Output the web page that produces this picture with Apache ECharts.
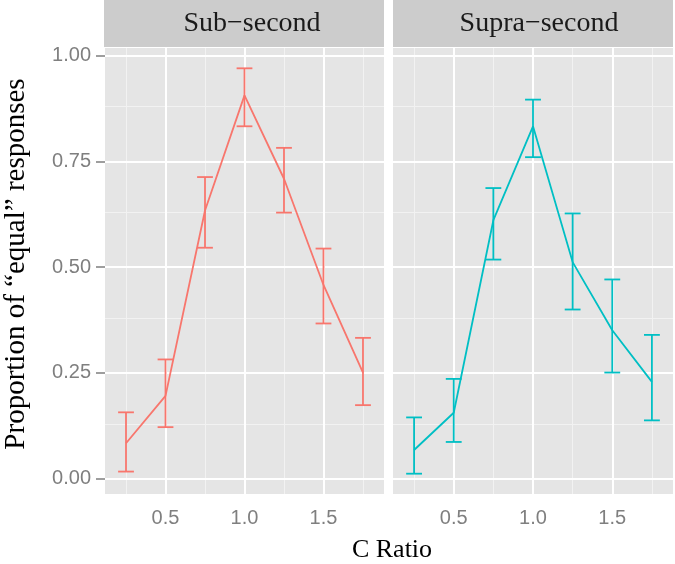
<!DOCTYPE html>
<html>
<head>
<meta charset="utf-8">
<script src="https://cdn.jsdelivr.net/npm/echarts@6/dist/echarts.min.js"></script>
<style>
html,body{margin:0;padding:0;background:#fff;}
#chart{width:675px;height:564px;}
</style>
</head>
<body>
<div id="chart"></div>
<script>
// ---- data ----
const panels = ['Sub\u2212second', 'Supra\u2212second'];
const cRatio = [0.25, 0.5, 0.75, 1.0, 1.25, 1.5, 1.75];
const subMean = [0.084, 0.196, 0.634, 0.906, 0.709, 0.458, 0.251];
const subLow  = [0.017, 0.122, 0.546, 0.833, 0.629, 0.367, 0.174];
const subHigh = [0.157, 0.282, 0.713, 0.970, 0.782, 0.544, 0.333];
const supraMean = [0.068, 0.156, 0.611, 0.833, 0.512, 0.351, 0.229];
const supraLow  = [0.012, 0.087, 0.518, 0.760, 0.400, 0.251, 0.138];
const supraHigh = [0.145, 0.236, 0.687, 0.896, 0.627, 0.471, 0.340];
const xTicks = [0.5, 1.0, 1.5];
const xMinor = [0.25, 0.75, 1.25, 1.75];
const yTicks = [0, 0.25, 0.5, 0.75, 1.0];
const yMinor = [0.125, 0.375, 0.625, 0.875];
const colors = ['#F8766D', '#00BFC4'];

const chart = echarts.init(document.getElementById('chart'), null, {renderer: 'canvas'});

const gridDefs = [
  {left: 105, top: 48, width: 279, height: 446},
  {left: 393, top: 48, width: 280, height: 446}
];
const X_MIN = 0.117, X_MAX = 1.883, Y_MIN = -0.036, Y_MAX = 1.018;
const tickGray = '#7F7F7F';

function xAxisDef(i) {
  return {
    type: 'value', gridIndex: i, min: X_MIN, max: X_MAX,
    axisLine: {show: false},
    splitLine: {show: false},
    axisTick: {show: true, customValues: xTicks, length: 9, lineStyle: {color: tickGray, width: 1.5}},
    axisLabel: {show: true, customValues: xTicks, margin: 14, color: tickGray, fontSize: 20,
      fontFamily: 'Liberation Sans', formatter: v => v.toFixed(1)}
  };
}
function yAxisDef(i) {
  return {
    type: 'value', gridIndex: i, min: Y_MIN, max: Y_MAX,
    axisLine: {show: false},
    splitLine: {show: false},
    axisTick: {show: i === 0, customValues: yTicks, length: 9, lineStyle: {color: tickGray, width: 1.5}},
    axisLabel: {show: i === 0, customValues: yTicks, margin: 14, color: tickGray, fontSize: 20,
      fontFamily: 'Liberation Sans', formatter: v => v.toFixed(2)}
  };
}

function gridLines(i) {
  const d = [];
  xMinor.forEach(v => d.push({xAxis: v, lineStyle: {color: '#F2F2F2', width: 1, type: 'solid'}}));
  yMinor.forEach(v => d.push({yAxis: v, lineStyle: {color: '#F2F2F2', width: 1, type: 'solid'}}));
  xTicks.forEach(v => d.push({xAxis: v, lineStyle: {color: '#FFFFFF', width: 2, type: 'solid'}}));
  yTicks.forEach(v => d.push({yAxis: v, lineStyle: {color: '#FFFFFF', width: 2, type: 'solid'}}));
  return {
    type: 'line', xAxisIndex: i, yAxisIndex: i, data: [], silent: true, z: 1,
    markLine: {silent: true, symbol: ['none', 'none'], label: {show: false}, animation: false, data: d}
  };
}

function lineSeries(i, mean) {
  return {
    type: 'line', xAxisIndex: i, yAxisIndex: i, z: 5,
    data: cRatio.map((x, k) => [x, mean[k]]),
    showSymbol: false, symbol: 'none',
    lineStyle: {color: colors[i], width: 1.8},
    animation: false
  };
}

function errSeries(i, low, high) {
  return {
    type: 'custom', xAxisIndex: i, yAxisIndex: i, z: 6,
    data: cRatio.map((x, k) => [x, low[k], high[k]]),
    renderItem: function (params, api) {
      const x = api.value(0), lo = api.value(1), hi = api.value(2);
      const pLo = api.coord([x, lo]), pHi = api.coord([x, hi]);
      const lL = api.coord([x - 0.05, lo]), lR = api.coord([x + 0.05, lo]);
      const hL = api.coord([x - 0.05, hi]), hR = api.coord([x + 0.05, hi]);
      const style = {stroke: colors[i], lineWidth: 1.8, fill: null};
      return {
        type: 'group',
        children: [
          {type: 'line', shape: {x1: pLo[0], y1: pLo[1], x2: pHi[0], y2: pHi[1]}, style: style},
          {type: 'line', shape: {x1: lL[0], y1: lL[1], x2: lR[0], y2: lR[1]}, style: style},
          {type: 'line', shape: {x1: hL[0], y1: hL[1], x2: hR[0], y2: hR[1]}, style: style}
        ]
      };
    },
    animation: false
  };
}

const serif = 'Liberation Serif';
const option = {
  animation: false,
  backgroundColor: '#FFFFFF',
  grid: gridDefs.map(g => Object.assign({show: true, backgroundColor: '#E5E5E5', borderWidth: 0, containLabel: false}, g)),
  xAxis: [xAxisDef(0), xAxisDef(1)],
  yAxis: [yAxisDef(0), yAxisDef(1)],
  series: [
    gridLines(0), gridLines(1),
    lineSeries(0, subMean), errSeries(0, subLow, subHigh),
    lineSeries(1, supraMean), errSeries(1, supraLow, supraHigh)
  ],
  graphic: [
    {type: 'rect', left: 104, top: 0, shape: {width: 280, height: 47}, style: {fill: '#CCCCCC'}, silent: true},
    {type: 'rect', left: 393, top: 0, shape: {width: 280, height: 47}, style: {fill: '#CCCCCC'}, silent: true},
    {type: 'text', x: 252, y: 24, style: {text: panels[0], font: '28px "' + serif + '"', fill: '#1A1A1A', align: 'center', verticalAlign: 'middle'}},
    {type: 'text', x: 539, y: 24, style: {text: panels[1], font: '28px "' + serif + '"', fill: '#1A1A1A', align: 'center', verticalAlign: 'middle'}},
    {type: 'text', x: 392, y: 550, style: {text: 'C Ratio', font: '26px "' + serif + '"', fill: '#000000', align: 'center', verticalAlign: 'middle'}},
    {type: 'text', x: 16, y: 264, rotation: Math.PI / 2, style: {text: 'Proportion of \u201Cequal\u201D responses', font: '29px "' + serif + '"', fill: '#000000', align: 'center', verticalAlign: 'middle'}}
  ]
};
chart.setOption(option);
</script>
</body>
</html>
